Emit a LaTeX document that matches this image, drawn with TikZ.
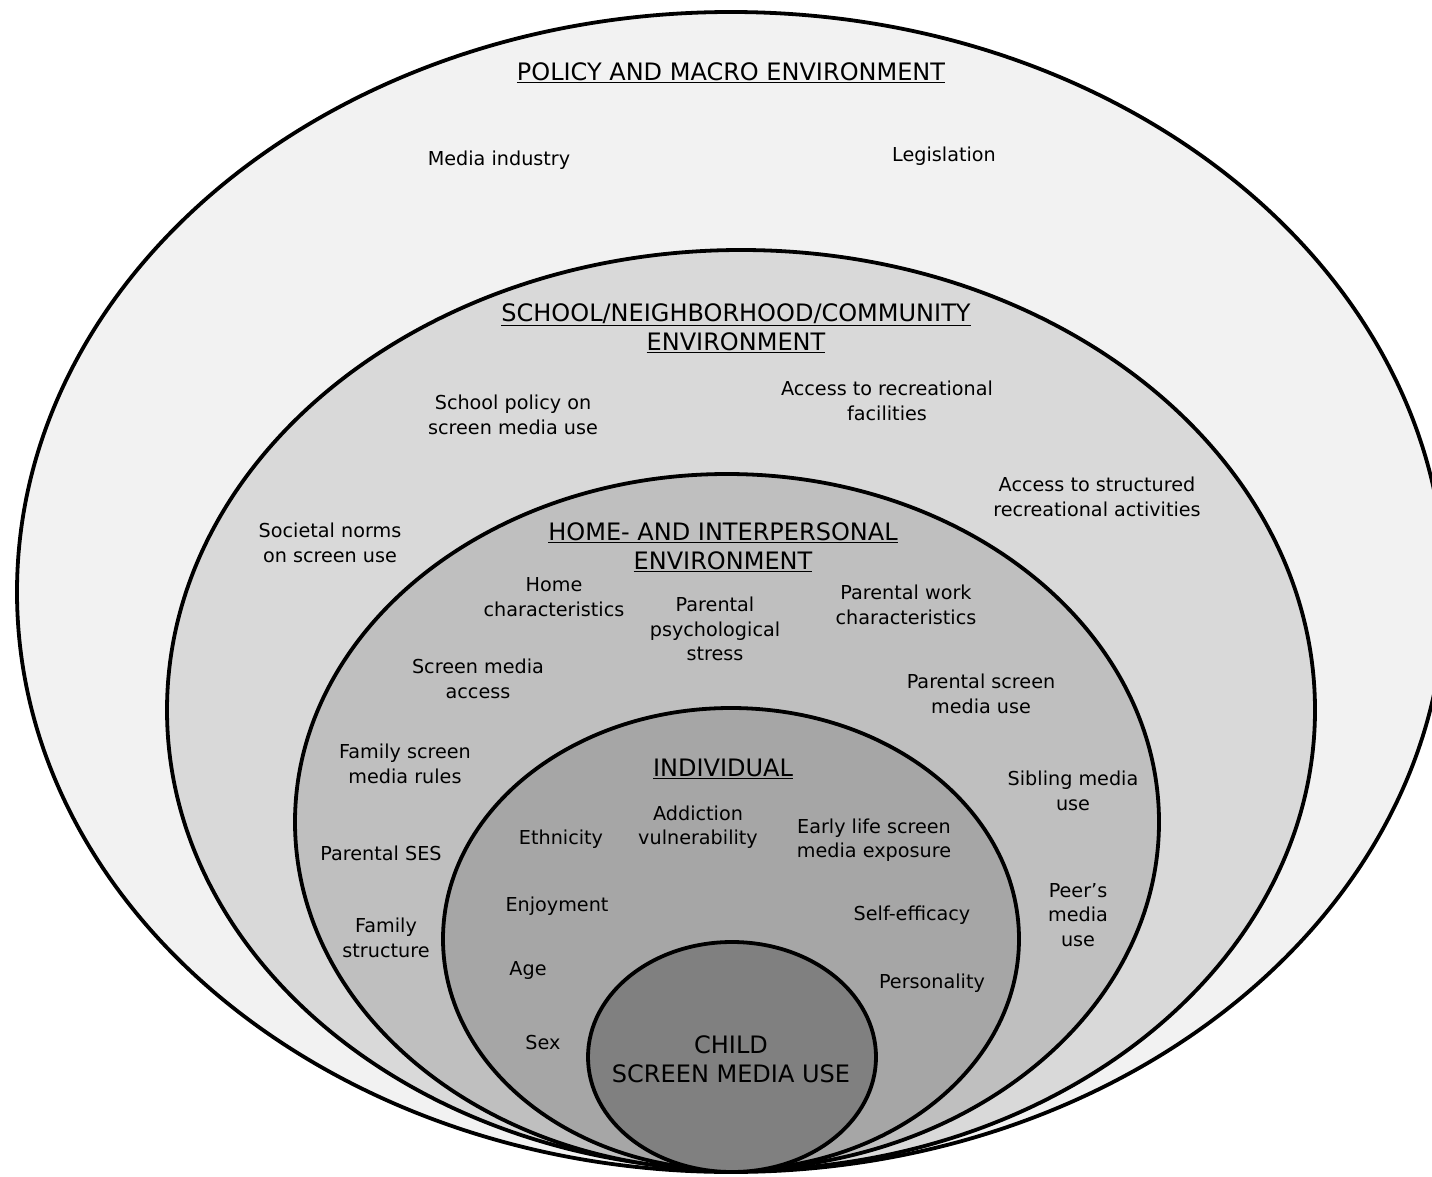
\documentclass[tikz,border=0pt]{standalone}
\usepackage{fontspec}
\setmainfont{DejaVu Sans}
\definecolor{gA}{HTML}{F2F2F2}
\definecolor{gB}{HTML}{D9D9D9}
\definecolor{gC}{HTML}{BFBFBF}
\definecolor{gD}{HTML}{A6A6A6}
\definecolor{gE}{HTML}{808080}
\begin{document}
\begin{tikzpicture}[x=1pt,y=-1pt,
  ring/.style={draw=black,line width=3.8pt},
  lbl/.style={align=center,inner sep=0pt,yshift=-2pt,font=\fontsize{19.2}{24.5}\selectfont},
  ttl/.style={align=center,inner sep=0pt,yshift=-2pt,font=\fontsize{24}{29}\selectfont},
]
\useasboundingbox (0,0) rectangle (1432,1177);
\clip (0,0) rectangle (1432,1177);
\fill[white] (0,0) rectangle (1432,1177);
% rings
\draw[ring,fill=gA] (731,592) ellipse [x radius=714pt, y radius=580pt];
\draw[ring,fill=gB] (741,710) ellipse [x radius=574pt, y radius=460pt];
\draw[ring,fill=gC] (727,822) ellipse [x radius=432pt, y radius=348pt];
\draw[ring,fill=gD] (731,939) ellipse [x radius=288pt, y radius=231pt];
\draw[ring,fill=gE] (732,1057) ellipse [x radius=144pt, y radius=115pt];
% policy
\node[ttl] (tpol) at (731,71) {\underline{POLICY AND MACRO ENVIRONMENT}};
\node[lbl] (media) at (499,158) {Media industry};
\node[lbl] (legis) at (944,154) {Legislation};
% school
\node[ttl] (tsch) at (736,326) {\underline{SCHOOL/NEIGHBORHOOD/COMMUNITY}\\\underline{ENVIRONMENT}};
\node[lbl] (schpol) at (513,413) {School policy on\\screen media use};
\node[lbl] (accfac) at (887,399) {Access to recreational\\facilities};
\node[lbl] (accstr) at (1097,495) {Access to structured\\recreational activities};
\node[lbl] (soc) at (330,541) {Societal norms\\on screen use};
% home
\node[ttl] (thome) at (723,545) {\underline{HOME- AND INTERPERSONAL}\\\underline{ENVIRONMENT}};
\node[lbl] (homec) at (554,595) {Home\\characteristics};
\node[lbl] (pstress) at (715,627) {Parental\\psychological\\stress};
\node[lbl] (pwork) at (906,603) {Parental work\\characteristics};
\node[lbl] (smacc) at (478,677) {Screen media\\access};
\node[lbl] (pscreen) at (981,692) {Parental screen\\media use};
\node[lbl] (frules) at (405,762) {Family screen\\media rules};
\node[lbl] (sib) at (1073,789) {Sibling media\\use};
\node[lbl] (pses) at (381,851) {Parental SES};
\node[lbl] (fstruct) at (386,936) {Family\\structure};
\node[lbl] (peer) at (1078,913) {Peer’s\\media\\use};
% individual
\node[ttl] (tind) at (723,767) {\underline{INDIVIDUAL}};
\node[lbl] (eth) at (561,837) {Ethnicity};
\node[lbl] (addv) at (698,825) {Addiction\\vulnerability};
\node[lbl] (early) at (874,838) {Early life screen\\media exposure};
\node[lbl] (enj) at (557,904) {Enjoyment};
\node[lbl] (selfe) at (912,913) {Self-efficacy};
\node[lbl] (age) at (528,968) {Age};
\node[lbl] (pers) at (932,981) {Personality};
\node[lbl] (sex) at (543,1040) {Sex};
% child
\node[ttl] (child) at (731,1057) {CHILD\\SCREEN MEDIA USE};
\end{tikzpicture}
\end{document}
